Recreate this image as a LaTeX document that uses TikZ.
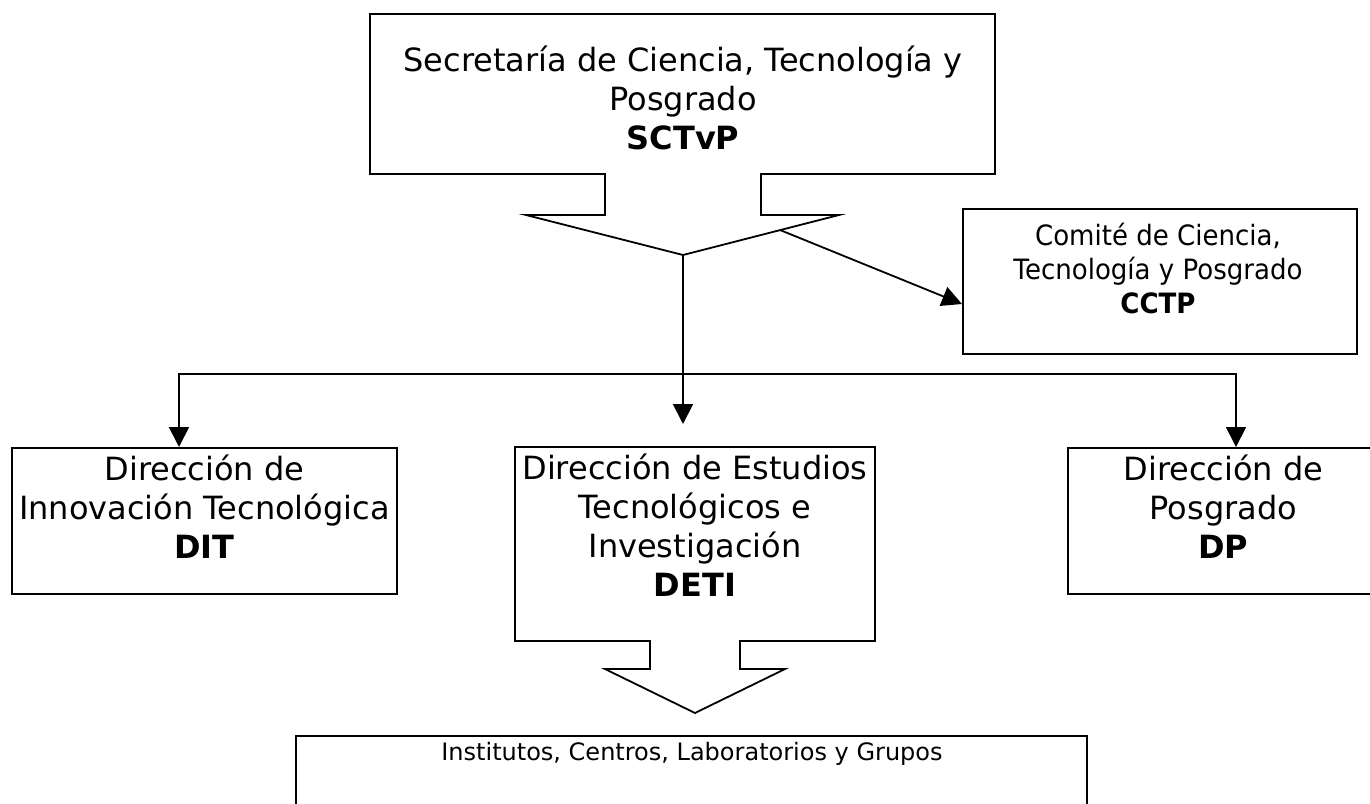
\documentclass[tikz,border=0pt]{standalone}
\usepackage{fontspec}
\setmainfont{DejaVu Sans}
\newfontfamily\cctpfamily[FakeStretch=0.93]{DejaVu Sans}
\usetikzlibrary{arrows.meta}
\newcommand\fbig{\fontsize{32pt}{39pt}\selectfont}
\newcommand\fcctp{\cctpfamily\fontsize{28pt}{34pt}\selectfont}
\newcommand\fsmall{\fontsize{24pt}{29pt}\selectfont}
\begin{document}
\begin{tikzpicture}[x=1pt,y=-1pt, line width=1.8pt, line join=miter,
  box/.style={draw, rectangle, inner sep=0pt, anchor=north west},
  lbl/.style={anchor=north, inner sep=0pt, align=center},
  tipto/.style={-{Triangle[width=20pt,length=20pt]}},
  tipboth/.style={{Triangle[width=20pt,length=20pt]}-{Triangle[width=20pt,length=20pt]}}]
\useasboundingbox (0,0) rectangle (1370,803);

% SCTvP callout box
\draw (370,174) -- (370,14) -- (995,14) -- (995,174) -- (761,174) -- (761,215)
  -- (839,215) -- (683,255) -- (526,215) -- (605,215) -- (605,174) -- cycle;
\coordinate (sctTip) at (683,255);
\node[lbl, font=\fbig] (tSCT) at (683,14)
  {\rule{0pt}{57pt}Secretaría de Ciencia, Tecnología y\\Posgrado\\\textbf{SCTvP}};

% CCTP
\node[box, minimum width=394pt, minimum height=145pt] (CCTP) at (962,208) {};
\node[lbl, font=\fcctp] (tCCTP) at (1158,208)
  {\rule{0pt}{37pt}Comité de Ciencia,\\Tecnología y Posgrado\\\textbf{CCTP}};

% DIT
\node[box, minimum width=385pt, minimum height=146pt] (DIT) at (11,447) {};
\node[lbl, font=\fbig] (tDIT) at (DIT.north)
  {\rule{0pt}{33pt}Dirección de\\Innovación Tecnológica\\\textbf{DIT}};

% DP
\node[box, minimum width=311pt, minimum height=146pt] (DP) at (1067,447) {};
\node[lbl, font=\fbig] (tDP) at (DP.north)
  {\rule{0pt}{33pt}Dirección de\\Posgrado\\\textbf{DP}};

% DETI callout box
\draw (515,641) -- (515,447) -- (875,447) -- (875,641) -- (740,641) -- (740,669)
  -- (785,669) -- (695,713) -- (605,669) -- (650,669) -- (650,641) -- cycle;
\node[lbl, font=\fbig] (tDETI) at (695,447)
  {\rule{0pt}{32pt}Dirección de Estudios\\Tecnológicos e\\Investigación\\\textbf{DETI}};

% Bottom box
\node[box, minimum width=791pt, minimum height=90pt] (ICLG) at (295,735) {};
\node[lbl, font=\fsmall] (tICLG) at (692,735)
  {\rule{0pt}{25pt}Institutos, Centros, Laboratorios y Grupos};

% connectors
\coordinate (detiIn) at (683,424);
\draw[tipto] (sctTip) -- (detiIn);
\coordinate (busL) at (179,374);
\coordinate (busR) at (1236,374);
\draw[tipboth] (busL |- DIT.north) -- (busL) -- (busR) -- (busR |- DP.north);
\coordinate (cStart) at (780,230);
\coordinate (cctpIn) at (962,304);
\draw[tipto] (cStart) -- (cctpIn);
\end{tikzpicture}
\end{document}
